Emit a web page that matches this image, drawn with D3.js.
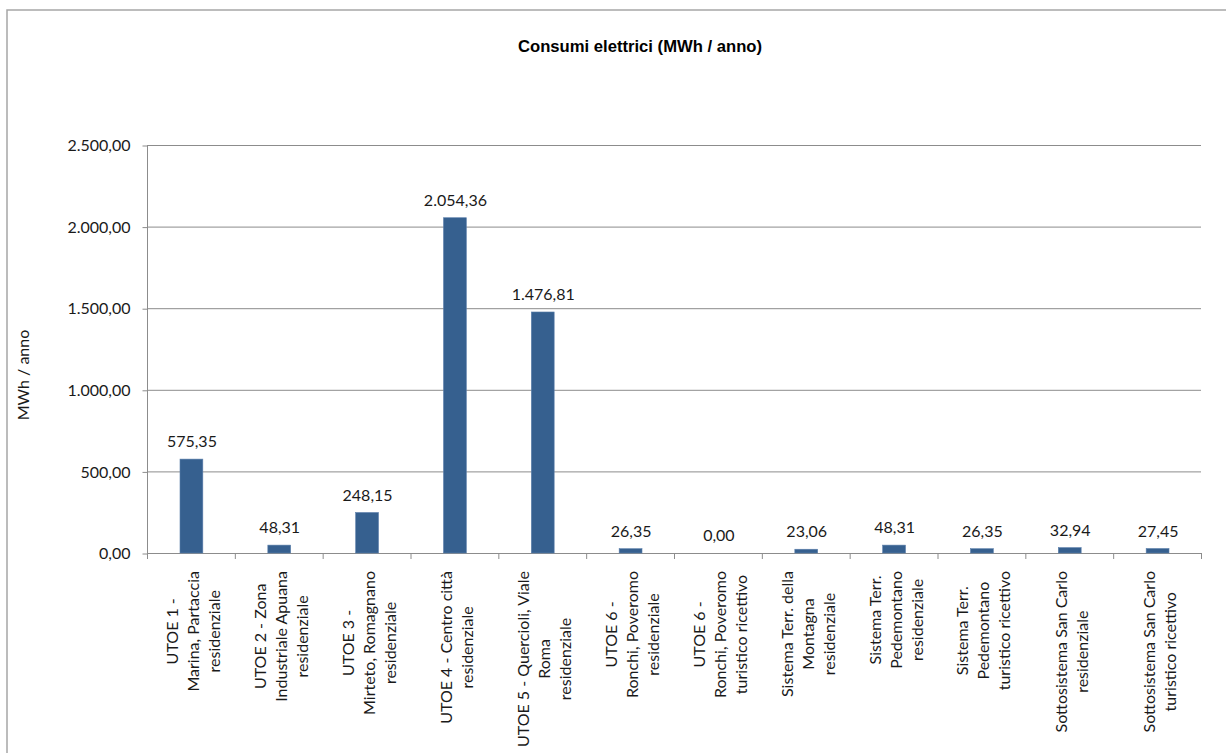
<!DOCTYPE html>
<html>
<head>
<meta charset="utf-8">
<script src="https://cdn.jsdelivr.net/npm/d3@7"></script>
<style>
  body { margin: 0; background: #fff; }
  svg { display: block; }
</style>
</head>
<body>
<script>
// Consumi elettrici bar chart

var categories = [
    ["UTOE 1 -", "Marina, Partaccia", "residenziale"],
    ["UTOE 2 - Zona", "Industriale Apuana", "residenziale"],
    ["UTOE 3 -", "Mirteto, Romagnano", "residenziale"],
    ["UTOE 4 - Centro città", "residenziale"],
    ["UTOE 5 - Quercioli, Viale", "Roma", "residenziale"],
    ["UTOE 6 -", "Ronchi, Poveromo", "residenziale"],
    ["UTOE 6 -", "Ronchi, Poveromo", "turistico ricettivo"],
    ["Sistema Terr. della", "Montagna", "residenziale"],
    ["Sistema Terr.", "Pedemontano", "residenziale"],
    ["Sistema Terr.", "Pedemontano", "turistico ricettivo"],
    ["Sottosistema San Carlo", "residenziale"],
    ["Sottosistema San Carlo", "turistico ricettivo"]
];

var values = [575.35, 48.31, 248.15, 2054.36, 1476.81, 26.35, 0.00, 23.06, 48.31, 26.35, 32.94, 27.45];

var yTicks = [0, 500, 1000, 1500, 2000, 2500];

var width = 1226;
var height = 753;

var plotLeft = 147, plotRight = 1201, plotTop = 145, plotBottom = 553;
var fontFamily = "Lato, 'Open Sans', sans-serif";

// italian style numbers: 2.054,36
var itFormat = d3.formatLocale({decimal: ",", thousands: ".", grouping: [3], currency: ["", "€"]}).format(",.2f");

var svg = d3.select("body").append("svg")
    .attr("width", width)
    .attr("height", height);

// chart frame
svg.append("rect")
    .attr("x", 7).attr("y", 10)
    .attr("width", width + 20).attr("height", height + 20)
    .attr("fill", "#fff")
    .attr("stroke", "#a6a6a6")
    .attr("stroke-width", 1.5);

svg.append("text")
    .attr("x", 640).attr("y", 52)
    .attr("text-anchor", "middle")
    .attr("font-family", "'Liberation Sans', Arial, sans-serif")
    .attr("font-weight", "bold")
    .attr("font-size", "16px")
    .attr("textLength", 244)
    .attr("lengthAdjust", "spacingAndGlyphs")
    .attr("fill", "#000")
    .text("Consumi elettrici (MWh / anno)");

var xScale = d3.scaleBand()
    .domain(d3.range(values.length))
    .range([plotLeft, plotRight])
    .padding(0);

var yScale = d3.scaleLinear()
    .domain([0, 2500])
    .range([plotBottom, plotTop]);

// gridlines
svg.append("g")
    .selectAll("line")
    .data(yTicks.filter(function(d) { return d > 0; }))
    .enter()
    .append("line")
    .attr("x1", plotLeft).attr("x2", plotRight)
    .attr("y1", function(d) { return yScale(d) + 0.5; })
    .attr("y2", function(d) { return yScale(d) + 0.5; })
    .attr("stroke", "#8c8c8c")
    .attr("stroke-width", 1);

// y axis
var yAxis = svg.append("g")
    .attr("transform", "translate(" + (plotLeft + 0.5) + ",0.5)")
    .call(d3.axisLeft(yScale).tickValues(yTicks).tickSize(5).tickPadding(12).tickFormat(itFormat));
yAxis.select(".domain").attr("stroke", "#8c8c8c").attr("d", "M0," + plotBottom + "V" + plotTop);
yAxis.selectAll(".tick line").attr("stroke", "#8c8c8c");
yAxis.selectAll(".tick text")
    .attr("font-family", fontFamily)
    .attr("font-size", "16px")
    .attr("fill", "#1a1a1a");

// x axis line + ticks at category boundaries
svg.append("line")
    .attr("x1", plotLeft).attr("x2", plotRight)
    .attr("y1", plotBottom + 0.5).attr("y2", plotBottom + 0.5)
    .attr("stroke", "#8c8c8c");

svg.append("g")
    .selectAll("line")
    .data(d3.range(values.length + 1))
    .enter()
    .append("line")
    .attr("x1", function(d) { return plotLeft + d * xScale.bandwidth() + 0.5; })
    .attr("x2", function(d) { return plotLeft + d * xScale.bandwidth() + 0.5; })
    .attr("y1", plotBottom)
    .attr("y2", plotBottom + 6)
    .attr("stroke", "#8c8c8c");

// bars
var barW = xScale.bandwidth() * 0.26;
svg.append("g")
    .selectAll("rect")
    .data(values)
    .enter()
    .append("rect")
    .attr("x", function(d, i) { return xScale(i) + xScale.bandwidth() / 2 - barW / 2 + 0.5; })
    .attr("y", function(d) { return yScale(d); })
    .attr("width", barW)
    .attr("height", function(d) { return plotBottom - yScale(d); })
    .attr("fill", "#36608f")
    .attr("stroke", "#5b7fab")
    .attr("stroke-width", 0.6);

// value labels
svg.append("g")
    .selectAll("text")
    .data(values)
    .enter()
    .append("text")
    .attr("x", function(d, i) { return xScale(i) + xScale.bandwidth() / 2 + 1; })
    .attr("y", function(d) { return yScale(d) - 12; })
    .attr("text-anchor", "middle")
    .attr("font-family", fontFamily)
    .attr("font-size", "16px")
    .attr("fill", "#1a1a1a")
    .text(function(d) { return itFormat(d); });

// rotated category labels
var labelTop = 571;
var lineGap = 21;
categories.forEach(function(lines, i) {
    var cx = xScale(i) + xScale.bandwidth() / 2 + 2;
    var g = svg.append("g")
        .attr("transform", "translate(" + cx + "," + labelTop + ") rotate(-90)");
    var texts = g.selectAll("text")
        .data(lines)
        .enter()
        .append("text")
        .attr("text-anchor", "middle")
        .attr("font-family", fontFamily)
        .attr("font-size", "16px")
        .attr("fill", "#1a1a1a")
        .attr("y", function(d, j) { return (j - (lines.length - 1) / 2) * lineGap + 6; })
        .text(function(d) { return d; });
    var maxLen = d3.max(texts.nodes(), function(n) { return n.getComputedTextLength(); });
    texts.attr("x", -maxLen / 2);
});

// y axis title
svg.append("text")
    .attr("transform", "translate(29,375) rotate(-90)")
    .attr("text-anchor", "middle")
    .attr("font-family", fontFamily)
    .attr("font-size", "16px")
    .attr("fill", "#1a1a1a")
    .text("MWh / anno");
</script>
</body>
</html>
